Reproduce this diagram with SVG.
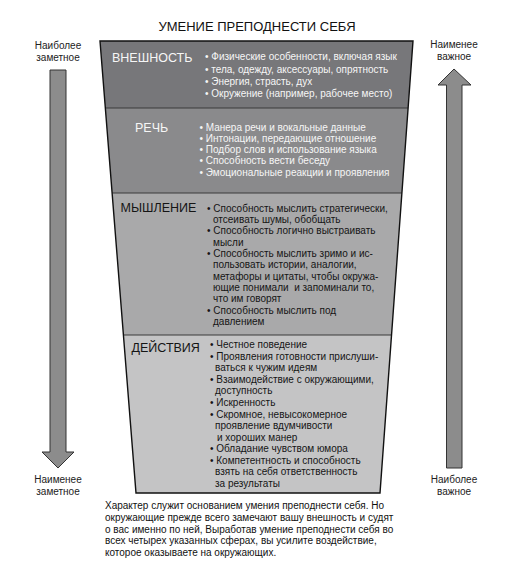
<svg xmlns="http://www.w3.org/2000/svg" width="505" height="572" viewBox="0 0 505 572">
<style>
text{font-family:"Liberation Sans",Arial,sans-serif;}
.title{font-size:13px;fill:#111;text-anchor:middle;}
.head{font-size:12.5px;}
.item{font-size:10px;}
.lbl{font-size:10px;fill:#222;text-anchor:middle;}
.w{fill:#f6f6f6;}
.k{fill:#151515;}
.band{stroke:none;}
.div{stroke:#3a3a3a;stroke-width:1.2;fill:none;}
.outline{fill:none;stroke:#111;stroke-width:1.4;stroke-linejoin:miter;}
.arrow{fill:#8c8c8c;stroke:#333;stroke-width:1;}
.note{font-size:10px;fill:#111;}
</style>
<rect width="505" height="572" fill="#ffffff"/>
<text class="title" x="257" y="31">УМЕНИЕ ПРЕПОДНЕСТИ СЕБЯ</text>

<g id="band-vneshnost">
<polygon class="band" fill="#77777a" points="100,41 413,41 408.1,108 105.3,108"/>
<text class="head w" x="112" y="62">ВНЕШНОСТЬ</text>
<text class="item w" x="205" y="60">• Физические особенности, включая язык</text>
<text class="item w" x="205" y="72.5">• тела, одежду, аксессуары, опрятность</text>
<text class="item w" x="205" y="84.5">• Энергия, страсть, дух</text>
<text class="item w" x="205" y="96.5">• Окружение (например, рабочее место)</text>
</g>

<g id="band-rech">
<polygon class="band" fill="#8a8a8c" points="105.3,108 408.1,108 401.9,193 112.1,193"/>
<text class="head w" x="135" y="132">РЕЧЬ</text>
<text class="item w" x="199.5" y="131">• Манера речи и вокальные данные</text>
<text class="item w" x="199.5" y="142">• Интонации, передающие отношение</text>
<text class="item w" x="199.5" y="153">• Подбор слов и использование языка</text>
<text class="item w" x="199.5" y="164">• Способность вести беседу</text>
<text class="item w" x="199.5" y="175.5">• Эмоциональные реакции и проявления</text>
</g>

<g id="band-myshlenie">
<polygon class="band" fill="#a9a9aa" points="112.1,193 401.9,193 391.5,335 123.4,335"/>
<text class="head k" x="120.5" y="212">МЫШЛЕНИЕ</text>
<text class="item k" x="207" y="211.7">• Способность мыслить стратегически,</text>
<text class="item k" x="213" y="223">отсеивать шумы, обобщать</text>
<text class="item k" x="207" y="234.4">• Способность логично выстраивать</text>
<text class="item k" x="213" y="245.7">мысли</text>
<text class="item k" x="207" y="257">• Способность мыслить зримо и ис-</text>
<text class="item k" x="213" y="268.4">пользовать истории, аналогии,</text>
<text class="item k" x="213" y="279.7">метафоры и цитаты, чтобы окружа-</text>
<text class="item k" x="213" y="291" xml:space="preserve" style="white-space:pre">ющие понимали  и запоминали то,</text>
<text class="item k" x="213" y="302.3">что им говорят</text>
<text class="item k" x="207" y="313.6">• Способность мыслить под</text>
<text class="item k" x="213" y="325">давлением</text>
</g>

<g id="band-deystviya">
<polygon class="band" fill="#c4c4c5" points="123.4,335 391.5,335 380,493 136,493"/>
<text class="head k" x="131.5" y="351.5">ДЕЙСТВИЯ</text>
<text class="item k" x="210" y="348.3">• Честное поведение</text>
<text class="item k" x="210" y="359.8">• Проявления готовности прислуши-</text>
<text class="item k" x="215" y="371.4">ваться к чужим идеям</text>
<text class="item k" x="210" y="382.9">• Взаимодействие с окружающими,</text>
<text class="item k" x="215" y="394.4">доступность</text>
<text class="item k" x="210" y="406">• Искренность</text>
<text class="item k" x="210" y="417.5">• Скромное, невысокомерное</text>
<text class="item k" x="215" y="429">проявление вдумчивости</text>
<text class="item k" x="217" y="440.6">и хороших манер</text>
<text class="item k" x="210" y="452.1">• Обладание чувством юмора</text>
<text class="item k" x="210" y="463.6">• Компетентность и способность</text>
<text class="item k" x="215" y="475.2">взять на себя ответственность</text>
<text class="item k" x="215" y="486.7">за результаты</text>
</g>

<g id="connectors">
<line class="div" x1="105.3" y1="108" x2="408.1" y2="108"/>
<line class="div" x1="112.1" y1="193" x2="401.9" y2="193"/>
<line class="div" x1="123.4" y1="335" x2="391.5" y2="335"/>
<polygon class="outline" points="100,41 413,41 380,493 136,493"/>
</g>

<g id="arrow-left">
<polygon class="arrow" points="50,70 66,70 66,452 74,452 58,468 42,452 50,452"/>
<text class="lbl" x="58" y="49">Наиболее</text>
<text class="lbl" x="58" y="60.5">заметное</text>
<text class="lbl" x="58" y="483">Наименее</text>
<text class="lbl" x="58" y="494.5">заметное</text>
</g>

<g id="arrow-right">
<polygon class="arrow" points="454,69 471,85 462,85 462,468 446.5,468 446.5,85 438,85"/>
<text class="lbl" x="454" y="48">Наименее</text>
<text class="lbl" x="454" y="60">важное</text>
<text class="lbl" x="454" y="483">Наиболее</text>
<text class="lbl" x="454" y="494.5">важное</text>
</g>

<g id="note">
<text class="note" x="105" y="509">Характер служит основанием умения преподнести себя. Но</text>
<text class="note" x="105" y="520.8">окружающие прежде всего замечают вашу внешность и судят</text>
<text class="note" x="105" y="532.6">о вас именно по ней, Выработав умение преподнести себя во</text>
<text class="note" x="105" y="544.4">всех четырех указанных сферах, вы усилите воздействие,</text>
<text class="note" x="105" y="556.2">которое оказываете на окружающих.</text>
</g>
</svg>
